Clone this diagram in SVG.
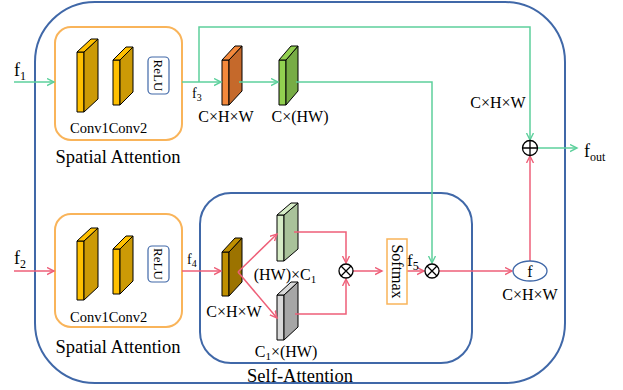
<svg xmlns="http://www.w3.org/2000/svg" width="623" height="390" viewBox="0 0 623 390">
<style>
text{font-family:"Liberation Serif","Times New Roman",serif;fill:#000}
.lbl{font-size:16px;text-anchor:middle}
.big{font-size:18.5px;text-anchor:middle}
.conv{font-size:14.5px}
.blue{fill:none;stroke:#4068A8;stroke-width:2}
.orng{fill:none;stroke:#F9B45A;stroke-width:2}
.g{fill:none;stroke:#5DD09C;stroke-width:1.5}
.p{fill:none;stroke:#EE5F78;stroke-width:1.5}
.blk{stroke:#000;stroke-width:1;stroke-linejoin:round}
.op{fill:#fff;stroke:#000;stroke-width:1.3}
</style>
<defs>
<marker id="ag" markerWidth="9" markerHeight="9" refX="7" refY="4" orient="auto" markerUnits="userSpaceOnUse"><path d="M0,0.5 L7,4 L0,7.5" fill="none" stroke="#5DD09C" stroke-width="1.4"/></marker>
<marker id="ap" markerWidth="9" markerHeight="9" refX="7" refY="4" orient="auto" markerUnits="userSpaceOnUse"><path d="M0,0.5 L7,4 L0,7.5" fill="none" stroke="#EE5F78" stroke-width="1.4"/></marker>
</defs>

<g id="outer"><rect class="blue" x="35" y="2" width="530" height="381" rx="60"/></g>

<g id="sa1">
<rect class="orng" x="55" y="27" width="127" height="113" rx="16"/>
<g class="blk"><rect x="77" y="52" width="7" height="60" fill="#FFC000"/><polygon points="84,52 98,39 98,99 84,112" fill="#CC9A06"/><polygon points="77,52 91,39 98,39 84,52" fill="#FFC000"/></g>
<g class="blk"><rect x="113" y="60" width="7" height="45" fill="#FFC000"/><polygon points="120,60 133,47 133,92 120,105" fill="#CC9A06"/><polygon points="113,60 126,47 133,47 120,60" fill="#FFC000"/></g>
<rect x="148" y="57" width="21" height="37" rx="4" fill="#fff" stroke="#4068A8" stroke-width="1.2"/>
<text x="158.5" y="75.5" font-size="13" text-anchor="middle" dominant-baseline="central" transform="rotate(90 158.5 75.5)">ReLU</text>
<text class="conv" x="70" y="133">Conv1Conv2</text>
<text class="big" x="118" y="163">Spatial Attention</text>
</g>

<g id="sa2">
<rect class="orng" x="55" y="214" width="127" height="113" rx="16"/>
<g class="blk"><rect x="77" y="241" width="7" height="59" fill="#FFC000"/><polygon points="84,241 98,228 98,287 84,300" fill="#CC9A06"/><polygon points="77,241 91,228 98,228 84,241" fill="#FFC000"/></g>
<g class="blk"><rect x="113" y="249" width="7" height="45" fill="#FFC000"/><polygon points="120,249 133,236 133,281 120,294" fill="#CC9A06"/><polygon points="113,249 126,236 133,236 120,249" fill="#FFC000"/></g>
<rect x="148" y="246" width="21" height="36" rx="4" fill="#fff" stroke="#4068A8" stroke-width="1.2"/>
<text x="158.5" y="264" font-size="13" text-anchor="middle" dominant-baseline="central" transform="rotate(90 158.5 264)">ReLU</text>
<text class="conv" x="70" y="322">Conv1Conv2</text>
<text class="big" x="118" y="353">Spatial Attention</text>
</g>

<g id="selfatt">
<rect class="blue" x="200" y="193" width="272" height="170" rx="31"/>
<text class="big" x="300" y="382">Self-Attention</text>
</g>

<g id="orangeblk" class="blk"><rect x="222" y="60" width="7" height="45" fill="#F4893C"/><polygon points="229,60 242,46 242,91 229,105" fill="#C5692B"/><polygon points="222,60 235,46 242,46 229,60" fill="#F4893C"/></g>
<g id="greenblk" class="blk"><rect x="279" y="60" width="7" height="45" fill="#92D050"/><polygon points="286,60 298,46 298,91 286,105" fill="#77AC45"/><polygon points="279,60 291,46 298,46 286,60" fill="#92D050"/></g>
<g id="brownblk" class="blk"><rect x="222" y="252" width="7" height="44" fill="#BF8F00"/><polygon points="229,252 242,238 242,282 229,296" fill="#9C7300"/><polygon points="222,252 235,238 242,238 229,252" fill="#BF8F00"/></g>
<g id="lgreenblk" class="blk"><rect x="277" y="215" width="7" height="46" fill="#D6ECC6"/><polygon points="284,215 298,203 298,249 284,261" fill="#A9C29A"/><polygon points="277,215 291,203 298,203 284,215" fill="#D6ECC6"/></g>
<g id="grayblk" class="blk"><rect x="277" y="295" width="7" height="45" fill="#D9D9D9"/><polygon points="284,295 298,282 298,327 284,340" fill="#A6A6A6"/><polygon points="277,295 291,282 298,282 284,295" fill="#D9D9D9"/></g>

<g id="connectors">
<path class="g" d="M14,82 H54" marker-end="url(#ag)"/>
<path class="g" d="M182,82 H221" marker-end="url(#ag)"/>
<path class="g" d="M199,82 V27 H530 V140" marker-end="url(#ag)"/>
<path class="g" d="M239,82 H278" marker-end="url(#ag)"/>
<path class="g" d="M296,82 H432 V263" marker-end="url(#ag)"/>
<path class="g" d="M537,148 H577" marker-end="url(#ag)"/>
<path class="p" d="M14,271 H54" marker-end="url(#ap)"/>
<path class="p" d="M182,271 H221" marker-end="url(#ap)"/>
<path class="p" d="M238,272 L277,234" marker-end="url(#ap)"/>
<path class="p" d="M238,272 L277,318" marker-end="url(#ap)"/>
<path class="p" d="M294,232 H346 V263" marker-end="url(#ap)"/>
<path class="p" d="M295,314 H346 V279" marker-end="url(#ap)"/>
<path class="p" d="M353,271 H382" marker-end="url(#ap)"/>
<path class="p" d="M407,271 H424" marker-end="url(#ap)"/>
<path class="p" d="M439,271 H512" marker-end="url(#ap)"/>
<path class="p" d="M530,261 V156" marker-end="url(#ap)"/>
</g>

<g id="softmax">
<rect x="387" y="239" width="20" height="65" fill="#fff" stroke="#F9B45A" stroke-width="1.5"/>
<text x="397" y="271.5" font-size="16" text-anchor="middle" dominant-baseline="central" transform="rotate(90 397 271.5)">Softmax</text>
</g>

<g id="mul1"><circle class="op" cx="346" cy="271" r="7"/><path d="M341,266 L351,276 M351,266 L341,276" stroke="#000" stroke-width="1.3"/></g>
<g id="mul2"><circle class="op" cx="432" cy="271" r="7"/><path d="M427,266 L437,276 M437,266 L427,276" stroke="#000" stroke-width="1.3"/></g>
<g id="add"><circle class="op" cx="530" cy="148" r="7.5"/><path d="M522.5,148 H537.5 M530,140.5 V155.5" stroke="#000" stroke-width="1.3"/></g>
<g id="fnode"><ellipse cx="530" cy="271" rx="17" ry="10" fill="#fff" stroke="#4068A8" stroke-width="1.3"/><text x="530" y="276.5" font-size="16" text-anchor="middle">f</text></g>

<g id="labels">
<text x="14" y="76" font-size="18">f<tspan font-size="12" dy="4">1</tspan></text>
<text x="14" y="264" font-size="18">f<tspan font-size="12" dy="4">2</tspan></text>
<text x="192" y="98" font-size="14">f<tspan font-size="10" dy="3">3</tspan></text>
<text x="187" y="264" font-size="14">f<tspan font-size="10" dy="3">4</tspan></text>
<text x="407" y="266" font-size="17">f<tspan font-size="12" dy="4">5</tspan></text>
<text x="584" y="157" font-size="18">f<tspan font-size="12" dy="4">out</tspan></text>
<text class="lbl" x="226" y="122">C×H×W</text>
<text class="lbl" x="300" y="122">C×(HW)</text>
<text class="lbl" x="498" y="108">C×H×W</text>
<text class="lbl" x="234" y="317">C×H×W</text>
<text class="lbl" x="285" y="280">(HW)×C<tspan font-size="11" dy="3">1</tspan></text>
<text class="lbl" x="286" y="357">C<tspan font-size="11" dy="3">1</tspan><tspan dy="-3">×(HW)</tspan></text>
<text class="lbl" x="530" y="300">C×H×W</text>
</g>
</svg>
